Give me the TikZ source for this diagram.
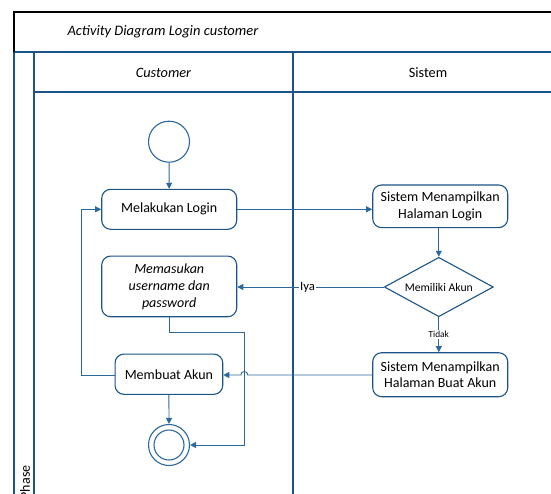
\documentclass[tikz,border=0pt]{standalone}
\usepackage{fontspec}
\setmainfont{Carlito}
\usetikzlibrary{arrows.meta,shapes.geometric,calc}
\definecolor{lane}{RGB}{27,84,134}
\definecolor{conn}{RGB}{44,104,156}
\tikzset{
  actbox/.style={draw=lane,line width=1.1pt,rounded corners=9pt,fill=white,align=center,font=\fontsize{14}{16.5}\selectfont,inner sep=0pt},
  lanel/.style={draw=lane,line width=1.2pt},
  flow/.style={draw=conn,line width=0.9pt,-{Triangle[length=6pt,width=6pt]}},
  plainflow/.style={draw=conn,line width=0.9pt},
}
\begin{document}
\begin{tikzpicture}[x=1pt,y=1pt]
\useasboundingbox (0,0) rectangle (551,-493);
% frame
\draw[lanel] (14,-52) -- (14,-500);
\draw[lanel] (34,-52) -- (34,-500);
\draw[lanel] (293,-52) -- (293,-500);
\draw[lanel] (14,-52) -- (560,-52);
\draw[lanel] (34,-92) -- (560,-92);
\draw[black,line width=1.2pt] (14,-52) -- (14,-12) -- (560,-12);
\node[anchor=west,font=\fontsize{14.5}{16}\selectfont\itshape] (title) at (64,-32) {Activity Diagram Login customer};
\node[font=\fontsize{14.3}{16}\selectfont\itshape] (cust) at (163.5,-73) {Customer};
\node[font=\fontsize{14.3}{16}\selectfont] (sis) at (428,-73) {Sistem};
\node[rotate=90,anchor=east,font=\fontsize{14}{16}\selectfont] (phase) at (25,-462) {Phase};
% nodes
\node[circle,draw=conn,line width=1.1pt,minimum size=41pt,inner sep=0pt] (start) at (169,-141.7) {};
\node[actbox,minimum width=135pt,minimum height=40pt] (login) at (169.2,-209.3) {Melakukan Login};
\node[actbox,minimum width=135pt,minimum height=60.7pt,font=\fontsize{14}{17}\selectfont\itshape] (mem) at (169.2,-286.4) {Memasukan\\username dan\\password};
\node[actbox,minimum width=107.7pt,minimum height=40.3pt] (buat) at (168.9,-374.2) {Membuat Akun};
\node[circle,draw=conn,line width=1.1pt,minimum size=41pt,inner sep=0pt] (end) at (169,-445) {};
\node[circle,draw=conn,line width=1.1pt,minimum size=30pt,inner sep=0pt] (endin) at (169,-445) {};
\node[actbox,minimum width=135pt,minimum height=42.7pt,font=\fontsize{14}{16.5}\selectfont] (shl) at (440.2,-206.3) {Sistem Menampilkan\\Halaman Login};
\node[diamond,aspect=1.835,draw=lane,line width=1.1pt,minimum width=109pt,minimum height=59.4pt,inner sep=0pt,font=\fontsize{11.7}{13}\selectfont] (dec) at (438.8,-287) {Memiliki Akun};
\node[actbox,minimum width=135pt,minimum height=44pt,font=\fontsize{14}{16.5}\selectfont] (sba) at (440.2,-374.7) {Sistem Menampilkan\\Halaman Buat Akun};
% connectors
\draw[flow] (start) -- (login);
\draw[flow] (login.east) -- (shl.west |- login.east);
\draw[flow] (shl.south -| dec.north) -- (dec.north);
\draw[flow] (dec.west) -- node[pos=0.52,fill=white,inner sep=1pt,font=\fontsize{12.7}{14}\selectfont] (iya) {Iya} (mem.east |- dec.west);
\draw[flow] (dec.south) -- node[pos=0.5,fill=white,inner sep=1pt,font=\fontsize{9.3}{11}\selectfont] (tidak) {Tidak} (sba.north -| dec.south);
\coordinate (jx) at (244.3,-375);
\draw[flow] (sba.west |- jx) -- ($(jx)+(3.5,0)$) arc (0:180:3.5) -- (buat.east |- jx);
\coordinate (lx) at (81,-375);
\draw[flow] (buat.west |- lx) -- (lx) |- (login.west);
\coordinate (mx) at (244.3,-332.7);
\draw[flow] (mem.south) |- (mx) |- (end.east);
\draw[flow] (buat.south) -- (end.north);
\end{tikzpicture}
\end{document}
